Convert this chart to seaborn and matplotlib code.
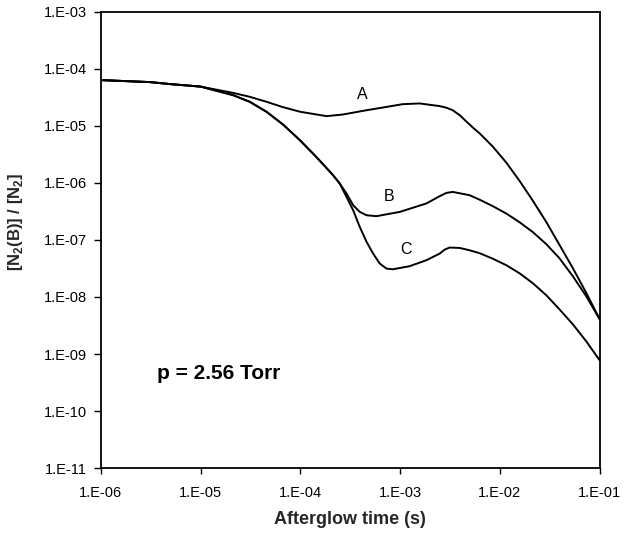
import numpy as np
import pandas as pd
import matplotlib
matplotlib.use("Agg")
import matplotlib.pyplot as plt
import seaborn as sns

# ---- data ----
time_A = [1.0e-6, 3.11e-6, 4.94e-6, 1.0e-5, 2.11e-5, 3.11e-5, 4.59e-5, 6.68e-5, 9.89e-5,
          1.83e-4, 2.66e-4, 4.61e-4, 6.75e-4, 1.06e-3, 1.57e-3, 2.49e-3, 2.91e-3, 3.36e-3,
          4.01e-3, 4.61e-3, 5.37e-3, 6.27e-3, 8.51e-3, 1.16e-2, 1.57e-2, 2.14e-2, 2.92e-2,
          3.95e-2, 5.38e-2, 7.33e-2, 1.0e-1]
ratio_A = [6.34e-5, 5.85e-5, 5.40e-5, 4.88e-5, 3.79e-5, 3.23e-5, 2.64e-5, 2.13e-5, 1.77e-5,
           1.48e-5, 1.58e-5, 1.88e-5, 2.10e-5, 2.40e-5, 2.47e-5, 2.22e-5, 2.08e-5, 1.88e-5,
           1.51e-5, 1.19e-5, 9.29e-6, 7.36e-6, 4.30e-6, 2.26e-6, 1.09e-6, 4.85e-7, 2.05e-7,
           8.20e-8, 3.20e-8, 1.18e-8, 4.06e-9]

time_B = [1.0e-6, 3.11e-6, 4.94e-6, 1.0e-5, 2.11e-5, 3.11e-5, 4.59e-5, 6.68e-5, 9.89e-5,
          1.45e-4, 2.13e-4, 2.48e-4, 2.90e-4, 3.38e-4, 3.94e-4, 4.61e-4, 5.79e-4, 9.91e-4,
          1.83e-3, 2.49e-3, 2.91e-3, 3.37e-3, 4.97e-3, 6.27e-3, 8.51e-3, 1.16e-2, 1.57e-2,
          2.14e-2, 2.92e-2, 3.95e-2, 5.38e-2, 7.33e-2, 1.0e-1]
ratio_B = [6.34e-5, 5.85e-5, 5.40e-5, 4.88e-5, 3.46e-5, 2.64e-5, 1.76e-5, 1.06e-5, 5.61e-6,
           2.83e-6, 1.36e-6, 9.75e-7, 6.52e-7, 4.06e-7, 3.10e-7, 2.71e-7, 2.61e-7, 3.10e-7,
           4.36e-7, 5.85e-7, 6.68e-7, 6.95e-7, 6.08e-7, 5.07e-7, 3.90e-7, 2.90e-7, 2.05e-7,
           1.37e-7, 8.41e-8, 4.78e-8, 2.31e-8, 1.03e-8, 4.06e-9]

time_C = [1.0e-6, 3.11e-6, 4.94e-6, 1.0e-5, 2.11e-5, 3.11e-5, 4.59e-5, 6.68e-5, 9.89e-5,
          1.45e-4, 2.13e-4, 2.48e-4, 2.90e-4, 3.38e-4, 3.94e-4, 4.61e-4, 5.36e-4, 6.25e-4,
          7.29e-4, 8.43e-4, 1.24e-3, 1.83e-3, 2.49e-3, 2.80e-3, 3.14e-3, 3.95e-3, 4.97e-3,
          6.27e-3, 8.51e-3, 1.16e-2, 1.57e-2, 2.14e-2, 2.92e-2, 3.95e-2, 5.38e-2, 7.33e-2, 1.0e-1]
ratio_C = [6.34e-5, 5.85e-5, 5.40e-5, 4.88e-5, 3.46e-5, 2.64e-5, 1.76e-5, 1.06e-5, 5.61e-6,
           2.83e-6, 1.36e-6, 9.75e-7, 5.68e-7, 3.32e-7, 1.69e-7, 9.23e-8, 5.77e-8, 3.85e-8,
           3.15e-8, 3.06e-8, 3.46e-8, 4.41e-8, 5.77e-8, 6.79e-8, 7.36e-8, 7.24e-8, 6.59e-8,
           5.85e-8, 4.68e-8, 3.60e-8, 2.61e-8, 1.74e-8, 1.07e-8, 6.08e-9, 3.32e-9, 1.67e-9, 7.74e-10]

curve_names = ["A", "B", "C"]
label_pos_x = [4.2e-4, 7.74e-4, 1.156e-3]
label_pos_y = [3.56e-5, 5.68e-7, 6.8e-8]

x_ticks = [1e-6, 1e-5, 1e-4, 1e-3, 1e-2, 1e-1]
x_tick_labels = ["1.E-06", "1.E-05", "1.E-04", "1.E-03", "1.E-02", "1.E-01"]
y_ticks = [1e-11, 1e-10, 1e-9, 1e-8, 1e-7, 1e-6, 1e-5, 1e-4, 1e-3]
y_tick_labels = ["1.E-11", "1.E-10", "1.E-09", "1.E-08", "1.E-07", "1.E-06", "1.E-05", "1.E-04", "1.E-03"]

annotation = "p = 2.56 Torr"

# ---- build long-form table ----
frames = []
for name, t, r in zip(curve_names, [time_A, time_B, time_C], [ratio_A, ratio_B, ratio_C]):
    frames.append(pd.DataFrame({"time": t, "ratio": r, "curve": name}))
df = pd.concat(frames, ignore_index=True)

sns.set_style("ticks")
plt.rcParams["font.family"] = ["Liberation Sans", "DejaVu Sans"]
plt.rcParams["mathtext.fontset"] = "custom"
plt.rcParams["mathtext.rm"] = "Liberation Sans"
plt.rcParams["mathtext.bf"] = "Liberation Sans:bold"

fig = plt.figure(figsize=(6.38, 5.35), dpi=100)
ax = fig.add_axes([0.158, 0.125, 0.782, 0.853])

sns.lineplot(data=df, x="time", y="ratio", hue="curve", units="curve", estimator=None,
             palette=["black", "black", "black"], linewidth=1.4, legend=False, sort=False, ax=ax)
for line in ax.get_lines():
    line.set_solid_joinstyle("round")

ax.set_xscale("log")
ax.set_yscale("log")
ax.set_xlim(1e-6, 1e-1)
ax.set_ylim(1e-11, 1e-3)

ax.xaxis.set_major_locator(matplotlib.ticker.FixedLocator(x_ticks))
ax.xaxis.set_minor_locator(matplotlib.ticker.NullLocator())
ax.set_xticklabels(x_tick_labels)
ax.yaxis.set_major_locator(matplotlib.ticker.FixedLocator(y_ticks))
ax.yaxis.set_minor_locator(matplotlib.ticker.NullLocator())
ax.set_yticklabels(y_tick_labels)

ax.tick_params(axis="x", direction="out", length=4, width=1, pad=9, labelsize=10.5, colors="black")
ax.tick_params(axis="y", direction="out", length=5, width=1, pad=5, labelsize=10.5, colors="black")

for s in ["top", "right", "left", "bottom"]:
    ax.spines[s].set_visible(True)
    ax.spines[s].set_color("black")
    ax.spines[s].set_linewidth(1.3)

ax.set_xlabel("Afterglow time (s)", fontsize=13, fontweight="bold", labelpad=8)
ax.set_ylabel(r"[N$_\mathbf{2}$(B)] / [N$_\mathbf{2}$]", fontsize=12, fontweight="bold")
ax.yaxis.set_label_coords(-0.151, 0.54)

for name, lx, ly in zip(curve_names, label_pos_x, label_pos_y):
    ax.text(lx, ly, name, ha="center", va="center", fontsize=11.5, color="black")

ax.text(3.64e-6, 3.7e-10, annotation, ha="left", va="baseline",
        fontsize=15, fontweight="bold", color="black")

fig.savefig("out.png", dpi=100)
